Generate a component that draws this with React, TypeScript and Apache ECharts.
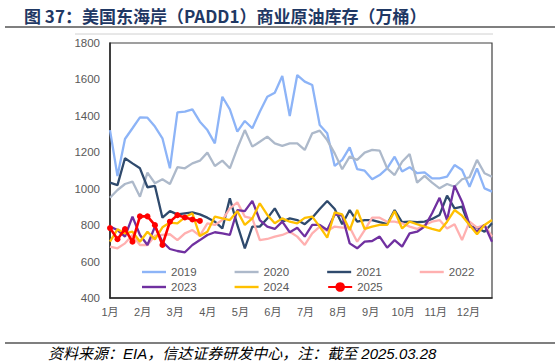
import React, { useEffect, useRef } from "react";
import * as echarts from "echarts";

const monthLabels = ["1月", "2月", "3月", "4月", "5月", "6月", "7月", "8月", "9月", "10月", "11月", "12月"];
const yearNames = ["2019", "2020", "2021", "2022", "2023", "2024", "2025"];

const s2019 = [1322,1070,1273,1332,1392,1390,1341,1277,1112,1419,1423,1436,1368,1322,1249,1505,1436,1313,1372,1332,1423,1505,1527,1619,1399,1624,1588,1569,1350,1304,1125,1158,1227,1107,1099,1052,1075,1112,1176,1094,1118,1085,1090,1057,1057,1066,1130,1103,1011,1112,1002,984];
const s2020 = [950,993,1026,1039,956,1088,1030,1052,1026,1118,1112,1139,1154,1198,1125,1154,1112,1222,1322,1231,1258,1286,1249,1235,1249,1249,1213,1304,1319,1267,1194,1107,1176,1158,1198,1213,1209,1112,1075,1148,1191,1033,1070,1033,1002,1026,1011,1052,1063,1158,1085,1066];
const s2021 = [1033,1020,1167,1139,1112,1008,1015,841,877,859,865,870,859,841,819,782,947,801,673,792,792,837,892,819,837,828,805,841,889,933,889,805,883,819,828,828,816,805,883,816,819,816,819,834,856,962,892,901,792,786,764,810];
const s2022 = [682,673,700,746,691,691,742,746,750,718,755,773,742,810,801,828,892,925,847,837,718,724,737,746,764,737,691,755,792,768,792,786,788,709,773,841,841,819,819,810,792,779,801,819,828,782,805,718,819,786,801,737];
const s2023 = [792,773,737,847,746,691,792,709,669,658,651,691,718,746,761,755,746,883,877,933,828,792,779,819,761,786,737,801,801,773,859,852,700,673,709,713,737,676,718,682,755,764,792,865,950,828,1017,929,801,764,801,709];
const s2024 = [709,777,755,764,709,764,722,788,814,810,843,865,740,764,847,837,828,877,801,837,920,856,810,837,819,810,840,847,792,731,870,859,773,883,779,792,801,801,877,782,819,805,792,779,768,819,883,852,801,750,801,828];
const s2025 = [784,723,778,709,848,848,800,691,819,855,842,831,823];

const seriesValues = [s2019, s2020, s2021, s2022, s2023, s2024, s2025];
const seriesColors = ["#8db4f7", "#adb9ca", "#2f4a6d", "#ffb0b0", "#7030a0", "#ffc000", "#ff0000"];

const MONTH_STEP = 4.35;
const LINE_ICON = "path://M0,0H24V2.4H0Z";

export default function App() {
  const ref = useRef<HTMLDivElement>(null);
  useEffect(() => {
    const chart = echarts.init(ref.current!, null, { renderer: "svg" });
    const series = yearNames.map((name, k) => {
      const isLast = k === yearNames.length - 1;
      return {
        name,
        type: "line",
        data: seriesValues[k].map((v, i) => [i, v]),
        symbol: isLast ? "circle" : "none",
        showSymbol: isLast,
        symbolSize: 6,
        color: seriesColors[k],
        itemStyle: { color: seriesColors[k] },
        lineStyle: { width: isLast ? 2.6 : 2.3, color: seriesColors[k] },
        z: 2 + k,
      };
    });
    const legendItem = (name: string) =>
      name === "2025" ? { name } : { name, icon: LINE_ICON };
    const legendCommon = {
      left: 142,
      padding: 0,
      itemWidth: 24,
      itemHeight: 12,
      itemGap: 38,
      symbolKeepAspect: true,
      textStyle: { color: "#595959", fontSize: 11.5, fontFamily: "Liberation Sans" },
    };
    const option = {
      animation: false,
      backgroundColor: "#ffffff",
      grid: {
        left: 110,
        right: 65,
        top: 43,
        bottom: 66,
        show: true,
        borderColor: "#404040",
        borderWidth: 1.2,
      },
      legend: [
        { ...legendCommon, top: 266, data: yearNames.slice(0, 4).map(legendItem) },
        { ...legendCommon, top: 281, data: yearNames.slice(4).map(legendItem) },
      ],
      xAxis: {
        type: "value",
        min: 0,
        max: 51,
        interval: MONTH_STEP,
        axisLine: { show: true, lineStyle: { color: "#262626", width: 1.5 } },
        axisTick: { show: false },
        splitLine: { show: false },
        axisLabel: {
          margin: 8,
          color: "#595959",
          fontSize: 11,
          fontFamily: "Liberation Sans, Noto Sans CJK SC",
          showMaxLabel: false,
          formatter: (v: number) => {
            const m = Math.round(v / MONTH_STEP);
            if (Math.abs(v - m * MONTH_STEP) < 0.05 && m >= 0 && m < 12) return monthLabels[m];
            return "";
          },
        },
      },
      yAxis: {
        type: "value",
        min: 400,
        max: 1800,
        interval: 200,
        axisLine: { show: true, lineStyle: { color: "#262626", width: 1.5 } },
        axisTick: { show: false },
        splitLine: { show: false },
        axisLabel: {
          margin: 10,
          color: "#595959",
          fontSize: 11.5,
          fontFamily: "Liberation Sans",
          formatter: (v: number) => String(v),
        },
      },
      graphic: [
        {
          type: "text",
          x: 24,
          y: 15,
          style: {
            text: "图 37：美国东海岸（PADD1）商业原油库存（万桶）",
            fill: "#1f3864",
            fontSize: 17,
            fontWeight: "bold",
            fontFamily: "Noto Sans CJK SC",
            verticalAlign: "middle",
          },
        },
        { type: "line", shape: { x1: 5, y1: 27, x2: 555, y2: 27 }, style: { stroke: "#7f7f7f", lineWidth: 2 } },
        { type: "line", shape: { x1: 75, y1: 34, x2: 493, y2: 34 }, style: { stroke: "#d0d0d0", lineWidth: 1 } },
        { type: "line", shape: { x1: 5, y1: 343, x2: 555, y2: 343 }, style: { stroke: "#7f7f7f", lineWidth: 2 } },
        {
          type: "text",
          x: 48,
          y: 353,
          style: {
            text: "资料来源：EIA，信达证券研发中心，注：截至 2025.03.28",
            fill: "#000000",
            fontSize: 15,
            fontStyle: "italic",
            fontFamily: "Liberation Sans, Noto Sans CJK SC",
            verticalAlign: "middle",
          },
        },
      ],
      series,
    };
    chart.setOption(option as any);
    return () => chart.dispose();
  }, []);
  return <div ref={ref} style={{ width: 557, height: 364, position: "absolute", left: 0, top: 0 }} />;
}
